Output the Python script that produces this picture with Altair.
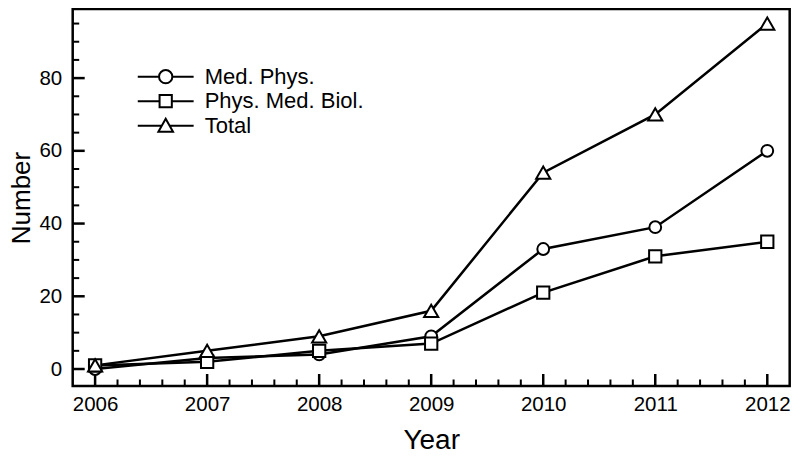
import altair as alt
import pandas as pd

# ---- data ----
years = [2006, 2007, 2008, 2009, 2010, 2011, 2012]
med_phys = [0, 3, 4, 9, 33, 39, 60]
phys_med_biol = [1, 2, 5, 7, 21, 31, 35]
total = [1, 5, 9, 16, 54, 70, 95]
series_names = ["Med. Phys.", "Phys. Med. Biol.", "Total"]

# tick values
x_major = [2006, 2007, 2008, 2009, 2010, 2011, 2012]
x_minor = [2006.2, 2006.4, 2006.6, 2006.8, 2007.2, 2007.4, 2007.6, 2007.8,
           2008.2, 2008.4, 2008.6, 2008.8, 2009.2, 2009.4, 2009.6, 2009.8,
           2010.2, 2010.4, 2010.6, 2010.8, 2011.2, 2011.4, 2011.6, 2011.8]
y_major = [0, 20, 40, 60, 80]
y_minor = [5, 10, 15, 25, 30, 35, 45, 50, 55, 65, 70, 75, 85, 90, 95]

rows = []
for name, vals in zip(series_names, [med_phys, phys_med_biol, total]):
    for yr, v in zip(years, vals):
        rows.append({"year": yr, "series": name, "value": v})
df = pd.DataFrame(rows)

W, H = 717, 377
FONT = "Liberation Sans"
X_DOM = [2005.8, 2012.2]
Y_DOM = [-4.67, 99]

xs = alt.Scale(domain=X_DOM, nice=False, zero=False)
ys = alt.Scale(domain=Y_DOM, nice=False, zero=False)

base = alt.Chart(df)

main_x_axis = alt.Axis(orient="bottom", values=x_major, format="d", domain=False, grid=False,
                       ticks=False, labelFontSize=20.5, labelColor="black", labelPadding=9,
                       labelFont=FONT, title="Year", titleFontSize=28, titleFontWeight="normal",
                       titleFont=FONT, titleColor="black", titlePadding=11)
main_y_axis = alt.Axis(orient="left", values=y_major, format="d", domain=False, grid=False,
                       ticks=False, labelFontSize=20.5, labelColor="black", labelPadding=11,
                       labelFont=FONT, title="Number", titleFontSize=26, titleFontWeight="normal",
                       titleFont=FONT, titleColor="black", titlePadding=4)

lines = base.mark_line(color="black", strokeWidth=2.5).encode(
    x=alt.X("year:Q", scale=xs, axis=main_x_axis),
    y=alt.Y("value:Q", scale=ys, axis=main_y_axis),
    detail="series:N",
)

# inward axis ticks, drawn as short two-point line segments through the shared scales
x_per_px = (X_DOM[1] - X_DOM[0]) / W
y_per_px = (Y_DOM[1] - Y_DOM[0]) / H

def tick_segments(values, length_px, axis):
    recs = []
    for i, t in enumerate(values):
        if axis == "x":
            recs.append({"id": i, "k": 0, "tx": t, "ty": Y_DOM[0]})
            recs.append({"id": i, "k": 1, "tx": t, "ty": Y_DOM[0] + length_px * y_per_px})
        else:
            recs.append({"id": i, "k": 0, "tx": X_DOM[0], "ty": t})
            recs.append({"id": i, "k": 1, "tx": X_DOM[0] + length_px * x_per_px, "ty": t})
    return pd.DataFrame(recs)

def tick_layer(values, length_px, axis, width):
    return alt.Chart(tick_segments(values, length_px, axis)).mark_line(
        color="black", strokeWidth=width, strokeCap="butt").encode(
        x=alt.X("tx:Q", scale=xs),
        y=alt.Y("ty:Q", scale=ys),
        detail="id:N",
        order="k:Q",
    )

tick_layers = [tick_layer(x_major, 12, "x", 2.5), tick_layer(x_minor, 6.5, "x", 2),
               tick_layer(y_major, 12, "y", 2.5), tick_layer(y_minor, 6.5, "y", 2)]

# one marker layer per series
marker_shapes = ["circle", "square", "triangle-up"]
marker_sizes = [139, 151, 200]
point_layers = []
for name, shp, sz in zip(series_names, marker_shapes, marker_sizes):
    point_layers.append(
        base.transform_filter(alt.datum.series == name).mark_point(
            shape=shp, size=sz, filled=True, fill="white", stroke="black",
            strokeWidth=2, opacity=1).encode(
            x=alt.X("year:Q", scale=xs),
            y=alt.Y("value:Q", scale=ys),
        )
    )

# legend (key drawn as line-through-marker symbols + labels)
leg_circle = "M-4.2,0H-1M1,0H4.2M1,0A1,1 0 1,1 -1,0A1,1 0 1,1 1,0Z"
leg_square = "M-4.2,0H-0.92M0.92,0H4.2M-0.92,-0.92H0.92V0.92H-0.92Z"
leg_tri = "M-4.2,0H-0.58M0.58,0H4.2M0,-1.05L1.1,0.9L-1.1,0.9Z"
leg_paths = [leg_circle, leg_square, leg_tri]
LEG_SYM_X, LEG_TXT_X, LEG_Y0, LEG_DY = 93, 132, 67.7, 24.5

legend_layers = []
for i, (name, path) in enumerate(zip(series_names, leg_paths)):
    ldf = pd.DataFrame({"label": [name]})
    yy = LEG_Y0 + i * LEG_DY
    legend_layers.append(
        alt.Chart(ldf).mark_point(shape=path, size=177, filled=False, stroke="black",
                                  strokeWidth=2, opacity=1).encode(
            x=alt.value(LEG_SYM_X), y=alt.value(yy))
    )
    legend_layers.append(
        alt.Chart(ldf).mark_text(align="left", baseline="middle", fontSize=22, font=FONT,
                                 color="black").encode(
            x=alt.value(LEG_TXT_X), y=alt.value(yy), text="label:N")
    )

chart = alt.layer(lines, *tick_layers, *point_layers, *legend_layers).properties(
    width=W, height=H,
    autosize=alt.AutoSizeParams(type="none"),
    padding={"left": 64.7, "top": 1, "right": 2, "bottom": 70},
).configure_view(
    stroke="black", strokeWidth=2.5,
)

chart.save("out.html", embed_options={"renderer": "svg", "actions": False})
